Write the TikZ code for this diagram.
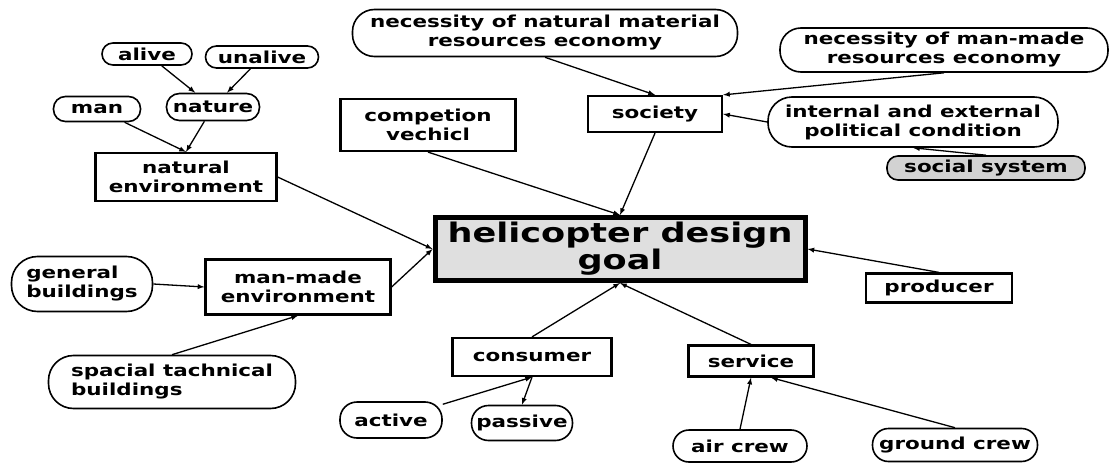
\documentclass[tikz,border=0pt]{standalone}
\usepackage{fontspec}
\newfontfamily\diagfont{DejaVu Sans}[FakeStretch=1.3]
\usetikzlibrary{arrows}
\usetikzlibrary{calc}

\begin{document}
\begin{tikzpicture}[x=1pt,y=-1pt,
    every node/.style={font=\diagfont\bfseries\fontsize{16.5}{19}\selectfont,align=center,inner sep=0pt},
    box/.style={draw,line width=2.2pt},
    oval/.style={draw,line width=1.6pt,rounded corners=#1},
    oval/.default=11pt,
    link/.style={-latex,line width=1.3pt}]
    \useasboundingbox (0,0) rectangle (1109,463);
    % Noeuds
    \node [draw,line width=5pt,fill=gray!25,minimum width=370pt,minimum height=63pt,
           font=\diagfont\bfseries\fontsize{27}{27}\selectfont] (goal) at (620,249) {helicopter design\\goal};
    \node [oval,minimum width=90pt,minimum height=22pt] (alive) at (147,54) {alive};
    \node [oval,minimum width=113pt,minimum height=22pt] (unalive) at (262,57) {unalive};
    \node [oval=12pt,minimum width=87pt,minimum height=25pt] (man) at (97,109) {man};
    \node [oval=13pt,minimum width=93pt,minimum height=27pt] (nature) at (213,107) {nature};
    \node [box,minimum width=181pt,minimum height=48pt] (natenv) at (186,177) {natural\\environment};
    \node [oval=22pt,minimum width=385pt,minimum height=47pt] (necnat) at (545,33) {necessity of natural material\\resources economy};
    \node [oval=21pt,minimum width=328pt,minimum height=44pt] (necman) at (944,50) {necessity of man-made\\resources economy};
    \node [box,minimum width=175pt,minimum height=52pt] (compet) at (428,125) {competion\\vechicl};
    \node [box,minimum width=134pt,minimum height=36pt] (society) at (655,114) {society};
    \node [oval=24pt,minimum width=290pt,minimum height=50pt] (polit) at (913,122) {internal and external\\political condition};
    \node [oval,fill=gray!35,minimum width=198pt,minimum height=24pt] (social) at (986,168) {social system};
    \node [oval=26pt,minimum width=141pt,minimum height=55pt,align=left] (general) at (82,284) {general\\buildings};
    \node [box,minimum width=185pt,minimum height=55pt] (manmade) at (298,287) {man-made\\environment};
    \node [oval=25pt,minimum width=247pt,minimum height=53pt,align=left] (spacial) at (172,382) {spacial tachnical\\buildings};
    \node [box,minimum width=146pt,minimum height=29pt] (producer) at (939,288) {producer};
    \node [box,minimum width=159pt,minimum height=38pt] (consumer) at (532,357) {consumer};
    \node [box,minimum width=125pt,minimum height=31pt] (service) at (751,361) {service};
    \node [oval=17pt,minimum width=102pt,minimum height=36pt] (active) at (391,420) {active};
    \node [oval=17pt,minimum width=101pt,minimum height=35pt] (passive) at (522,423) {passive};
    \node [oval=16pt,minimum width=134pt,minimum height=32pt] (aircrew) at (740,446) {air crew};
    \node [oval=16pt,minimum width=165pt,minimum height=33pt] (ground) at (955,445) {ground crew};
    % Flèches
    \draw [link] (alive) -- (nature);
    \draw [link] (unalive) -- (nature);
    \draw [link] (man) -- (natenv.north);
    \draw [link] (nature) -- (natenv.north);
    \draw [link] (natenv.east) -- (goal.west);
    \draw [link] (manmade.east) -- (goal.west);
    \draw [link] (general.east) -- (manmade.west);
    \draw [link] (spacial.north) -- (manmade.south);
    \draw [link] (compet.south) -- (goal.north);
    \draw [link] (society.south) -- (goal.north);
    \draw [link] (necnat.south) -- (society.north);
    \draw [link] (necman.south) -- (society.north east);
    \draw [link] (polit.west) -- (society.east);
    \draw [link] (social.north) -- (polit.south);
    \draw [link] (producer.north) -- (goal.east);
    \draw [link] (consumer.north) -- (goal.south);
    \draw [link] (service.north) -- (goal.south);
    \draw [link] (active) -- (consumer.south);
    \draw [link] (consumer.south) -- (passive.north);
    \draw [link] (aircrew.north) -- (service.south);
    \draw [link] (ground.north) -- ($(service.south)+(20,0)$);
\end{tikzpicture}
\end{document}
